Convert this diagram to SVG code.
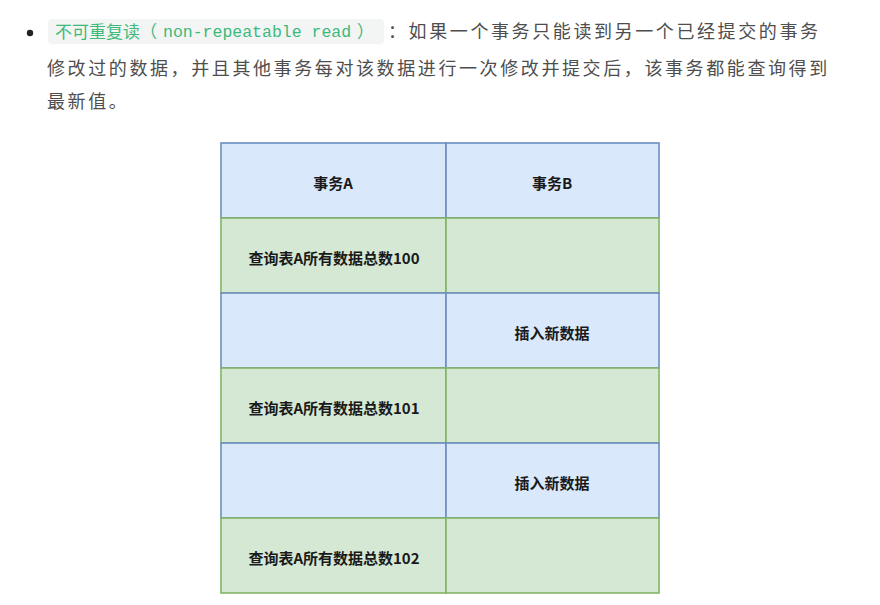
<svg xmlns="http://www.w3.org/2000/svg" width="880" height="605" viewBox="0 0 880 605">
<style>
.para{font-family:"Noto Sans CJK SC","Noto Sans",sans-serif;font-size:18px;fill:#4e4e4e;letter-spacing:2.6px}
.code{font-family:"Noto Sans CJK SC",sans-serif;font-size:17px;fill:#3cba7a}
.mono{font-family:"Liberation Mono","DejaVu Sans Mono","Noto Sans CJK SC",monospace;font-size:16.5px;fill:#3cba7a}
.blue{fill:#dae8fc;stroke:#6c8ebf;stroke-width:1.6}
.green{fill:#d5e8d4;stroke:#82b366;stroke-width:1.6}
.lbl{font-family:"Noto Sans CJK SC","Noto Sans",sans-serif;font-size:15px;font-weight:bold;fill:#1a1a1a;text-anchor:middle;dominant-baseline:central}
</style>
<rect width="880" height="605" fill="#ffffff"/>
<g id="paragraph">
<circle cx="30" cy="33" r="3.2" fill="#222"/>
<rect x="48" y="19" width="336" height="25" rx="4" fill="#f3f4f4"/>
<text class="code" x="55" y="38">不可重复读（</text>
<text class="mono" x="163" y="37">non-repeatable read</text>
<text class="code" x="357" y="38">）</text>
<text class="para" x="388" y="38">：如果一个事务只能读到另一个已经提交的事务</text>
<text class="para" x="47" y="75">修改过的数据，并且其他事务每对该数据进行一次修改并提交后，该事务都能查询得到</text>
<text class="para" x="47" y="108">最新值。</text>
</g>
<g id="table">
<g id="r1a"><rect class="blue" x="221" y="143" width="225" height="75"/><text class="lbl" x="333" y="182">事务A</text></g>
<g id="r1b"><rect class="blue" x="446" y="143" width="213" height="75"/><text class="lbl" x="552" y="182">事务B</text></g>
<g id="r2a"><rect class="green" x="221" y="218" width="225" height="75"/><text class="lbl" x="334" y="257">查询表A所有数据总数100</text></g>
<g id="r2b"><rect class="green" x="446" y="218" width="213" height="75"/></g>
<g id="r3a"><rect class="blue" x="221" y="293" width="225" height="75"/></g>
<g id="r3b"><rect class="blue" x="446" y="293" width="213" height="75"/><text class="lbl" x="552" y="332">插入新数据</text></g>
<g id="r4a"><rect class="green" x="221" y="368" width="225" height="75"/><text class="lbl" x="334" y="407">查询表A所有数据总数101</text></g>
<g id="r4b"><rect class="green" x="446" y="368" width="213" height="75"/></g>
<g id="r5a"><rect class="blue" x="221" y="443" width="225" height="75"/></g>
<g id="r5b"><rect class="blue" x="446" y="443" width="213" height="75"/><text class="lbl" x="552" y="482">插入新数据</text></g>
<g id="r6a"><rect class="green" x="221" y="518" width="225" height="75"/><text class="lbl" x="334" y="557">查询表A所有数据总数102</text></g>
<g id="r6b"><rect class="green" x="446" y="518" width="213" height="75"/></g>
</g>
<g id="connectors"></g>
</svg>
